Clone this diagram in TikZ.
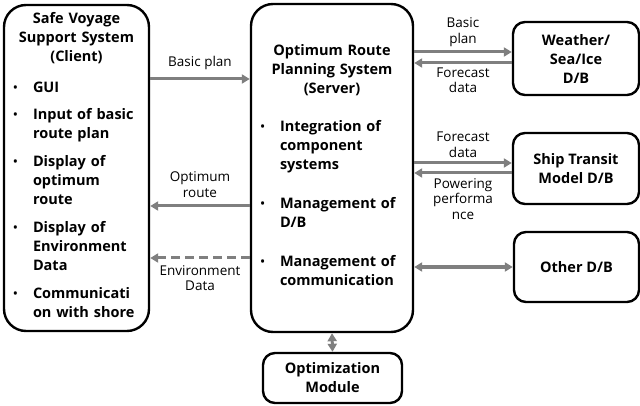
\documentclass[tikz,border=0pt]{standalone}
\usepackage{fontspec}
\setmainfont{Open Sans}
\usepackage{tikz}
\usetikzlibrary{arrows.meta, positioning}

\definecolor{linkgray}{RGB}{127,127,127}

% bullet line with hanging text
\newcommand{\bitem}[1]{\makebox[21pt][l]{\hspace{1.5pt}\raisebox{1.2pt}{\fontsize{11}{11}\selectfont\textbullet}}\begin{tabular}[t]{@{}l@{}}#1\end{tabular}\par}

\tikzset{
    box/.style={draw, line width=2.4pt, rounded corners=12pt, inner sep=0pt,
        font=\bfseries\fontsize{14.5}{19}\selectfont, align=center},
    bigbox/.style={box, rounded corners=22pt, align=left},
    link/.style={draw=linkgray, line width=3pt, -{Triangle[length=8pt,width=9pt]}},
    both/.style={link, {Triangle[length=8pt,width=9pt]}-{Triangle[length=8pt,width=9pt]}},
    lbl/.style={font=\fontsize{13.5}{15.5}\selectfont, align=center, inner sep=0pt}
}

\begin{document}
\begin{tikzpicture}[x=1pt, y=-1pt]
    \useasboundingbox (0,0) rectangle (640,406);

    % Client and server
    \node[bigbox, minimum width=145pt, minimum height=326pt, text width=129pt] (client) at (76.5,168) {%
        {\centering Safe Voyage\\ Support System\\ (Client)\par}
        \vspace{12pt}\bitem{GUI}
        \vspace{8pt}\bitem{Input of basic\\ route plan}
        \vspace{8pt}\bitem{Display of\\ optimum\\ route}
        \vspace{8pt}\bitem{Display of\\ Environment\\ Data}
        \vspace{8pt}\bitem{Communicati\\ on with shore}};
    \node[bigbox, minimum width=162pt, minimum height=328pt, text width=146pt] (server) at (332,168) {%
        {\centering Optimum Route\\ Planning System\\ (Server)\par}
        \vspace{19pt}\bitem{Integration of\\ component\\ systems}
        \vspace{19pt}\bitem{Management of\\ D/B}
        \vspace{19pt}\bitem{Management of\\ communication}};

    % Data bases
    \node[box, minimum width=126pt, minimum height=73pt] (weather) at (576,58.5) {Weather/\\ Sea/Ice\\ D/B};
    \node[box, minimum width=126pt, minimum height=71pt] (ship) at (576,168.5) {Ship Transit\\ Model D/B};
    \node[box, minimum width=125pt, minimum height=70pt] (other) at (576.5,267) {Other D/B};
    \node[box, minimum width=139pt, minimum height=50pt] (optim) at (332.5,378) {Optimization\\ Module};

    % Client <-> server
    \draw[link] ([yshift=89pt]client.east) -- ([yshift=89pt]server.west)
        node[lbl, midway, above=8pt] {Basic plan};
    \draw[link] ([yshift=-38pt]server.west) -- ([yshift=-38pt]client.east)
        node[lbl, midway, above=7pt] {Optimum\\ route};
    \draw[link, dash pattern=on 9pt off 5pt] ([yshift=-90pt]server.west) -- ([yshift=-90pt]client.east)
        node[lbl, midway, below=6pt] {Environment\\ Data};

    % Server <-> data bases
    \draw[link] ([yshift=116pt]server.east) -- ([yshift=6.5pt]weather.west)
        node[lbl, midway, above=4pt] {Basic\\ plan};
    \draw[link] ([yshift=-4.5pt]weather.west) -- ([yshift=105pt]server.east)
        node[lbl, midway, below=3pt] {Forecast\\ data};
    \draw[link] ([yshift=5pt]server.east) -- ([yshift=5.5pt]ship.west)
        node[lbl, midway, above=4pt] {Forecast\\ data};
    \draw[link] ([yshift=-4.5pt]ship.west) -- ([yshift=-5pt]server.east)
        node[lbl, midway, below=4pt] {Powering\\ performa\\ nce};
    \draw[both] ([yshift=-99pt]server.east) -- (other.west);
    \draw[both] (server.south) -- (optim.north);

\end{tikzpicture}
\end{document}
